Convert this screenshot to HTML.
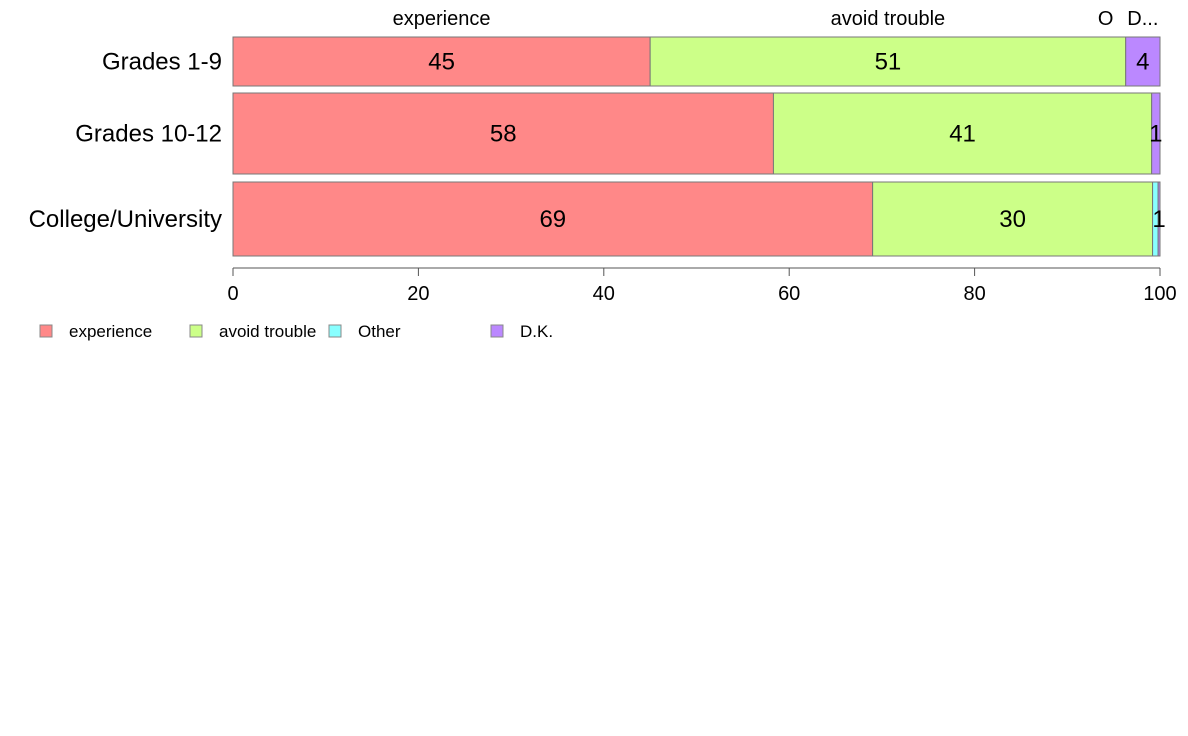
<!DOCTYPE html>
<html><head><meta charset="utf-8"><style>
body{margin:0;background:#fff;font-family:"Liberation Sans",Arial,sans-serif}
svg{display:block}
</style></head><body>
<svg id="chart" width="1188" height="736" xmlns="http://www.w3.org/2000/svg"></svg>
<script>
const categories=["Grades 1-9","Grades 10-12","College/University"];
const seriesNames=["experience","avoid trouble","Other","D.K."];
const experience=[45.0,58.3,69.0];
const avoidTrouble=[51.3,40.8,30.2];
const other=[0.0,0.0,0.6];
const dk=[3.7,0.9,0.2];
const printed=[["45","51","","4"],["58","41","","1"],["69","30","","1"]];
const xTicks=[0,20,40,60,80,100];
const colors=["#ff8888","#ccff88","#88ffff","#bb88ff"];
const series=[experience,avoidTrouble,other,dk];
const svg=document.getElementById('chart');
const NS="http://www.w3.org/2000/svg";
const x0=233,x1=1160;
function xs(v){return x0+(x1-x0)*v/100;}
const rows=[[37,86],[93,174],[182,256]];
function mk(t,a){const e=document.createElementNS(NS,t);for(const k in a)e.setAttribute(k,a[k]);svg.appendChild(e);return e;}
categories.forEach((c,i)=>{
  const [y0,y1]=rows[i];
  let cum=0;
  series.forEach((s,j)=>{
    const v=s[i];
    const r=mk('rect',{x:xs(cum),y:y0,width:Math.max(0,xs(cum+v)-xs(cum)),height:y1-y0,fill:colors[j],stroke:'#777','stroke-width':1});
    
    
    if(printed[i][j]){
      const t=mk('text',{x:(xs(cum)+xs(cum+v))/2,y:(y0+y1)/2+8,'text-anchor':'middle','font-size':24,fill:'#000'});
      t.textContent=printed[i][j];
      
      
    }
    cum+=v;
  });
  const l=mk('text',{x:222,y:(y0+y1)/2+8,'text-anchor':'end','font-size':24,fill:'#000'});
  l.textContent=c;
  
  
});
// top labels from first row
let cum=0;
const topTexts=["experience","avoid trouble","O","D..."];
series.forEach((s,j)=>{
  const v=s[0];
  let cx=(xs(cum)+xs(cum+v))/2;
  if(j===2)cx-=20; if(j===3)cx+=0;
  const t=mk('text',{x:cx,y:25,'text-anchor':'middle','font-size':20,fill:'#000'});
  t.textContent=topTexts[j];
  
  
  cum+=v;
});
const ax=mk('line',{x1:x0,x2:x1,y1:268,y2:268,stroke:'#555'});


xTicks.forEach(v=>{
  const tk=mk('line',{x1:xs(v),x2:xs(v),y1:268,y2:276,stroke:'#555'});
  
  
  const t=mk('text',{x:xs(v),y:300,'text-anchor':'middle','font-size':20,fill:'#000'});
  t.textContent=v;
  
  
});
const legX=[40,190,329,491];
seriesNames.forEach((n,j)=>{
  const r=mk('rect',{x:legX[j],y:325,width:12,height:12,fill:colors[j],stroke:'#888'});
  
  
  const t=mk('text',{x:legX[j]+29,y:337,'font-size':17,fill:'#000'});
  t.textContent=n;
  
  
});
</script>
</body></html>
